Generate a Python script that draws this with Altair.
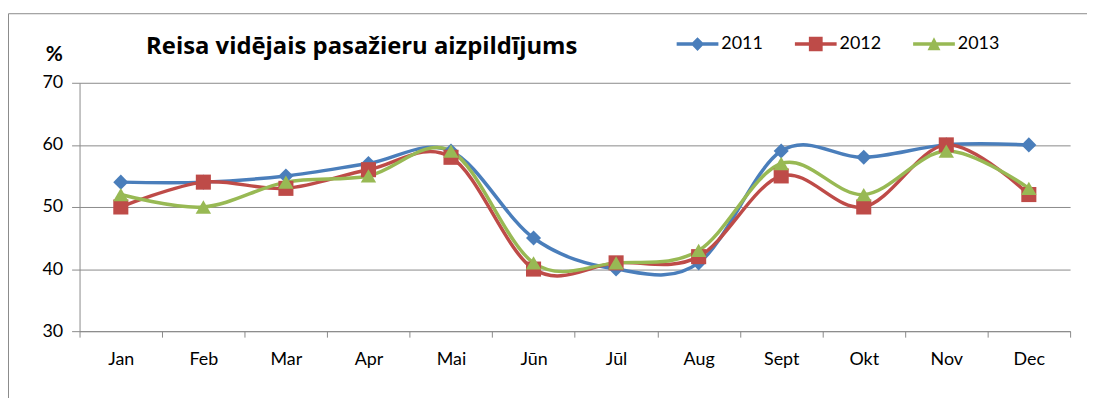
import altair as alt
import pandas as pd

months = ["Jan", "Feb", "Mar", "Apr", "Mai", "Jūn", "Jūl", "Aug", "Sept", "Okt", "Nov", "Dec"]
years = ["2011", "2012", "2013"]
v2011 = [54, 54, 55, 57, 59, 45, 40, 41, 59, 58, 60, 60]
v2012 = [50, 54, 53, 56, 58, 40, 41, 42, 55, 50, 60, 52]
v2013 = [52, 50, 54, 55, 59, 41, 41, 43, 57, 52, 59, 53]
colors = ["#4A7EBB", "#BE4B48", "#98B954"]
title_text = "Reisa vidējais pasažieru aizpildījums"

df = pd.DataFrame({
    "month": months * 3,
    "year": [y for y in years for _ in months],
    "value": v2011 + v2012 + v2013,
})

W, H = 997, 250
GRAY = "#8a8a8a"

x_enc = alt.X(
    "month:N", sort=months, bandPosition=0.5,
    scale=alt.Scale(type="band", paddingInner=0, paddingOuter=0),
    axis=alt.Axis(title=None, tickBand="extent", labelAngle=0, tickSize=6,
                  labelPadding=14, domainColor=GRAY, tickColor=GRAY, grid=False,
                  labelFont="Lato", labelFontSize=18, labelColor="black"),
)
y_enc = alt.Y(
    "value:Q",
    scale=alt.Scale(domain=[30, 70], nice=False, zero=False),
    axis=alt.Axis(values=[30, 40, 50, 60, 70], title="%", titleAngle=0,
                  titleX=-26, titleY=-22, titleAlign="center", titleBaseline="alphabetic",
                  titleFont="Lato", titleFontSize=21, titleFontWeight="bold", titleColor="black",
                  grid=True, gridColor=GRAY, gridWidth=1, domainColor=GRAY, tickColor=GRAY,
                  tickSize=8, labelPadding=9, labelFont="Lato", labelFontSize=18,
                  labelColor="black"),
)
color_scale = alt.Scale(domain=years, range=colors)

legend_paths = [
    "M-1,-0.08L-0.24,-0.08L0,-0.33L0.24,-0.08L1,-0.08L1,0.08L0.24,0.08L0,0.33L-0.24,0.08L-1,0.08Z",
    "M-1,-0.08L-0.33,-0.08L-0.33,-0.35L0.33,-0.35L0.33,-0.08L1,-0.08L1,0.08L0.33,0.08L0.33,0.35L-0.33,0.35L-0.33,0.08L-1,0.08Z",
    "M-1,-0.08L-0.123,-0.08L0,-0.33L0.123,-0.08L1,-0.08L1,0.08L0.2,0.08L0.31,0.3L-0.31,0.3L-0.2,0.08L-1,0.08Z",
]
leg = alt.Legend(title=None, orient="none", legendX=601, legendY=-60, direction="horizontal",
                 symbolSize=1764, symbolStrokeWidth=0, labelFont="Lato", labelFontSize=18,
                 labelColor="black", labelOffset=3, columnPadding=32, padding=0)

legend_layer = alt.Chart(df).mark_point(filled=True, size=1764, clip=True, opacity=1).encode(
    x=alt.value(-400), y=alt.value(-400),
    color=alt.Color("year:N", scale=color_scale, legend=leg),
    shape=alt.Shape("year:N", scale=alt.Scale(domain=years, range=legend_paths), legend=leg),
)

line_layers = []
marker_layers = []
shapes = ["diamond", "square", "triangle-up"]
sizes = [230, 230, 240]
for yr, shp, sz, col in zip(years, shapes, sizes, colors):
    base = alt.Chart(df).transform_filter(alt.datum.year == yr)
    line_layers.append(
        base.mark_line(interpolate="cardinal", strokeWidth=3.5, color=col).encode(x=x_enc, y=y_enc)
    )
    marker_layers.append(
        base.mark_point(shape=shp, filled=True, size=sz, color=col, opacity=1).encode(x=x_enc, y=y_enc)
    )

title_layer = alt.Chart(alt.Data(values=[{"t": title_text}])).mark_text(
    align="left", baseline="alphabetic", font="Open Sans", fontSize=24, fontWeight="bold", color="black"
).encode(text="t:N", x=alt.value(67), y=alt.value(-29))

border = alt.Chart(alt.Data(values=[{"a": 1}])).mark_rect(
    fill="transparent", stroke=GRAY, strokeWidth=1
).encode(x=alt.value(-71.5), x2=alt.value(W + 80), y=alt.value(-69.5), y2=alt.value(H + 200))

chart = alt.layer(legend_layer, border, *line_layers, *marker_layers, title_layer).properties(
    width=W, height=H,
    padding={"left": 72, "top": 74, "right": 17, "bottom": 66},
    autosize="none",
    background="white",
).configure_view(stroke=None)

chart.save("out.html", embed_options={"renderer": "svg", "actions": False})
